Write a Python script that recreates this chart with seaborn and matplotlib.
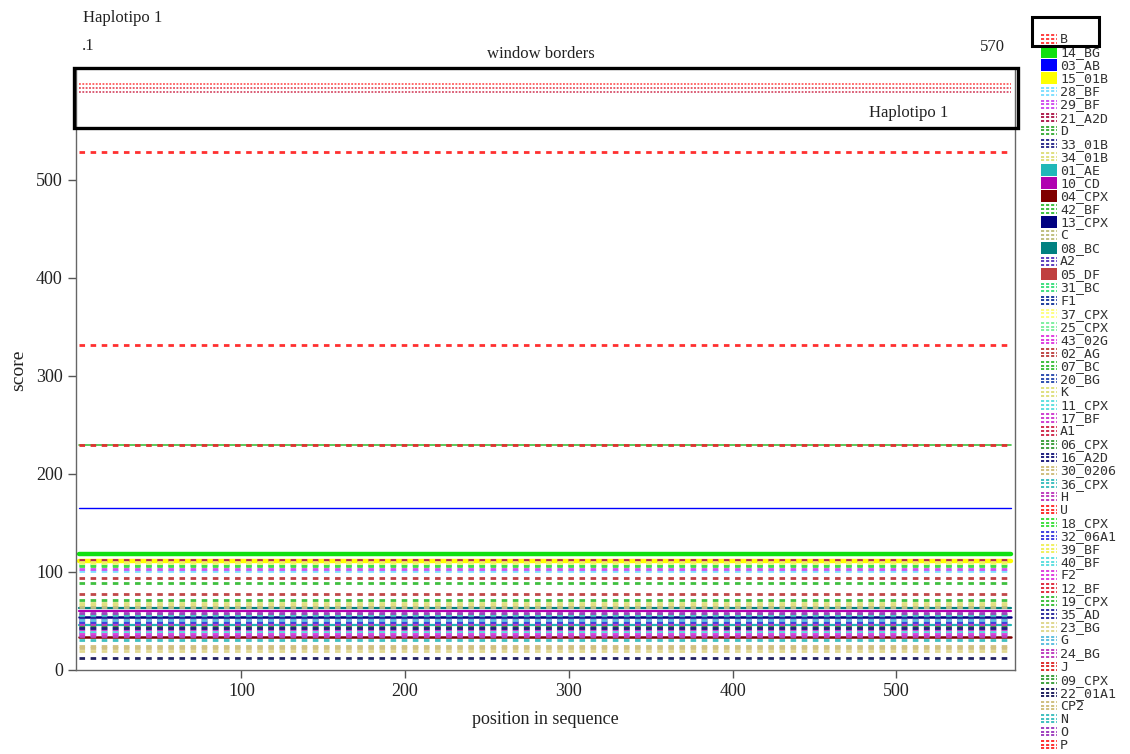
import numpy as np
import pandas as pd
import matplotlib
matplotlib.use("Agg")
import matplotlib.pyplot as plt
from matplotlib.patches import Rectangle
import seaborn as sns

# ---- data (constant score along the window) ----
STRAINS = ["B", "14_BG", "03_AB", "15_01B", "28_BF", "29_BF", "21_A2D", "D",
           "33_01B", "34_01B", "01_AE", "10_CD", "04_CPX", "42_BF", "13_CPX",
           "C", "08_BC", "A2", "05_DF", "31_BC", "F1", "37_CPX", "25_CPX",
           "43_02G", "02_AG", "07_BC", "20_BG", "K", "11_CPX", "17_BF", "A1",
           "06_CPX", "16_A2D", "30_0206", "36_CPX", "H", "U", "18_CPX",
           "32_06A1", "39_BF", "40_BF", "F2", "12_BF", "19_CPX", "35_AD",
           "23_BG", "G", "24_BG", "J", "09_CPX", "22_01A1", "CP2", "N", "O", "P"]

SCORES = [598, 118, 165, 111, 101, 103, 112, 50,
          48, 66, 46, 60, 34, 89, 54,
          64, 63, 44, 94, 107, 42, 109, 40,
          52, 78, 230, 38, 68, 36, 41, 590,
          45, 43, 24, 31, 47, 332, 106,
          49, 110, 39, 37, 594, 71, 53,
          19, 51, 35, 230, 57, 12, 22, 56, 58, 528]

COLORS = ["#ff4040", "#10e010", "#0000ff", "#ffff00", "#80e0ff", "#d050f0", "#b02050", "#40b040",
          "#303090", "#e0e080", "#20b8b8", "#b000b0", "#800000", "#40c040", "#000080",
          "#c0c080", "#008080", "#6040c0", "#c04040", "#40e080", "#2040a0", "#ffff80", "#80f0a0",
          "#e040e0", "#c04848", "#40c040", "#3050b0", "#e0e080", "#60e0e0", "#d040d0", "#d03050",
          "#40a040", "#202080", "#d0c080", "#40c0c0", "#c040c0", "#ff3030", "#40e040",
          "#4040e0", "#f0f060", "#60e0e0", "#e040e0", "#e03040", "#40c040", "#3030a0",
          "#e0d890", "#60c0e0", "#c040c0", "#e03030", "#40a040", "#202060", "#d0c080", "#40c0c0", "#a040c0", "#ff3030"]

WINDOW = [1, 570]

# legend handles drawn as filled blocks
BLOCK = {"14_BG", "03_AB", "15_01B", "01_AE", "10_CD", "04_CPX", "13_CPX", "08_BC", "05_DF"}
# solid lines in the plot, with widths
SOLID_W = {"14_BG": 3.2, "15_01B": 3.2, "03_AB": 1.0, "04_CPX": 1.8, "13_CPX": 1.8,
           "08_BC": 1.6, "10_CD": 1.6, "01_AE": 1.6, "07_BC": 1.2}
FINE = {"B", "12_BF", "A1"}

W, H = 1130, 754

rows = []
for name, s in zip(STRAINS, SCORES):
    for x in WINDOW:
        rows.append({"position": x, "score": s, "strain": name})
df = pd.DataFrame(rows)

palette = dict(zip(STRAINS, COLORS))
dashes, sizes = {}, {}
for name in STRAINS:
    if name in SOLID_W:
        dashes[name] = ""
        sizes[name] = SOLID_W[name]
    elif name in FINE:
        dashes[name] = (1.2, 1.0)
        sizes[name] = 1.1
    else:
        dashes[name] = (2.0, 2.0)
        sizes[name] = 2.0

# thick solids go underneath the dashed ones
order = [n for n in STRAINS if n in SOLID_W] + [n for n in STRAINS if n not in SOLID_W]

sns.set_theme(style="white")
plt.rcParams["font.family"] = ["Liberation Serif", "DejaVu Serif"]

fig = plt.figure(figsize=(W / 100, H / 100), dpi=100)
ax = fig.add_axes([76 / W, 1 - 670 / H, 939 / W, 600 / H])

sns.lineplot(data=df, x="position", y="score", hue="strain", hue_order=order,
             palette=palette, style="strain", style_order=order, dashes=dashes,
             size="strain", size_order=order, sizes=sizes, legend=False, ax=ax)

ax.set_xlim(-1, 572.5)
ax.set_ylim(0, 612)
ax.set_xticks([100, 200, 300, 400, 500])
ax.set_yticks([0, 100, 200, 300, 400, 500])
ax.tick_params(direction="out", length=6, width=1, color="#555555",
               labelcolor="#222222", labelsize=13, bottom=True, left=True)
ax.spines["top"].set_visible(False)
for sp in ["left", "right", "bottom"]:
    ax.spines[sp].set_color("#666666")
    ax.spines[sp].set_linewidth(1.0)
ax.set_xlabel("position in sequence", fontsize=13, color="#222222", labelpad=8)
ax.set_ylabel("score", fontsize=14, color="#222222", labelpad=6)

# header texts
fig.text(83 / W, 1 - 18 / H, "Haplotipo 1", fontsize=12, va="center", ha="left", color="#222222")
fig.text(82 / W, 1 - 46 / H, ".1", fontsize=12, va="center", ha="left", color="#222222")
fig.text(541 / W, 1 - 54 / H, "window borders", fontsize=12, va="center", ha="center", color="#222222")
fig.text(1005 / W, 1 - 47 / H, "570", fontsize=12, va="center", ha="right", color="#222222")
fig.text(948 / W, 1 - 113 / H, "Haplotipo 1", fontsize=12, va="center", ha="right", color="#222222")

# highlight boxes
fig.add_artist(Rectangle((74 / W, 1 - 128 / H), 944 / W, 60 / H, fill=False,
                         ec="black", lw=2.4, transform=fig.transFigure))
fig.add_artist(Rectangle((1032 / W, 1 - 46 / H), 67 / W, 29 / H, fill=False,
                         ec="black", lw=2.2, transform=fig.transFigure))

# side legend, one row per strain
lax = fig.add_axes([1035 / W, 1 - 752 / H, 95 / W, 720 / H])
lax.set_xlim(0, 1)
lax.set_ylim((752 - 39) / 13.07, (32 - 39) / 13.07)
lax.axis("off")
for i, (name, c) in enumerate(zip(STRAINS, COLORS)):
    if name in BLOCK:
        lax.add_patch(Rectangle((0.06, i - 0.46), 0.175, 0.92, color=c, lw=0))
    else:
        for off in (-0.28, 0.0, 0.28):
            lax.plot([0.065, 0.235], [i + off, i + off], color=c, lw=1.4,
                     dashes=(1.6, 1.0))
    lax.text(0.265, i + 0.05, name, fontsize=9.5, family="DejaVu Sans Mono",
             va="center", ha="left", color="#333333")

fig.savefig("out.png", dpi=100)
